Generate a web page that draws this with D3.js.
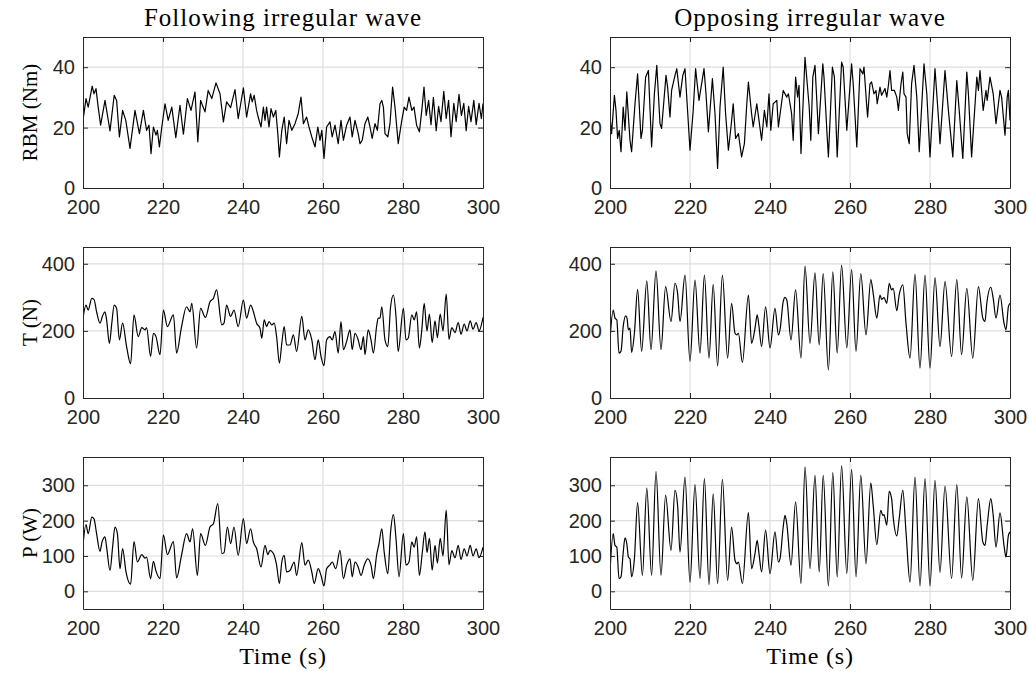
<!DOCTYPE html>
<html>
<head>
<meta charset="utf-8">
<script src="https://cdn.jsdelivr.net/npm/d3@7"></script>
<style>
  body { margin: 0; background: #fff; }
  svg { display: block; }
</style>
</head>
<body>
<svg id="chart" width="1030" height="677"></svg>
<script>
// values, [time (s), value]
const rbmFollowing = [[200.0,22.4],[200.75,29.6],[201.3,26.8],[202.3,33.7],[202.75,31.2],[203.25,32.9],[203.8,26.8],[204.4,20.8],[205.5,29.0],[206.75,18.9],[207.8,30.7],[208.4,29.0],[209.1,16.9],[209.9,25.7],[210.7,22.4],[211.75,13.1],[213.0,25.7],[214.1,18.0],[215.1,25.7],[215.9,19.1],[216.5,20.8],[217.0,11.4],[217.6,20.2],[218.25,17.5],[218.6,19.1],[219.1,13.6],[219.7,20.2],[220.5,27.9],[221.3,22.4],[222.2,26.8],[223.2,16.7],[224.25,27.4],[225.1,17.8],[226.1,29.6],[227.0,25.7],[228.0,31.8],[228.7,15.3],[229.4,29.0],[230.5,25.2],[231.3,32.3],[232.2,29.6],[233.25,34.8],[234.25,31.2],[235.1,21.9],[235.9,28.5],[236.9,26.6],[238.0,32.6],[238.8,23.0],[240.1,33.2],[240.9,23.5],[241.9,31.2],[242.3,28.5],[242.8,30.7],[243.4,25.7],[243.8,23.5],[244.5,20.2],[245.1,26.8],[245.5,22.4],[245.9,26.8],[246.5,20.2],[247.0,26.3],[247.6,23.5],[248.2,25.7],[248.7,18.0],[249.1,10.3],[249.7,19.1],[250.3,23.5],[250.9,14.7],[251.5,22.4],[252.2,19.1],[253.0,21.3],[253.8,24.6],[254.5,30.1],[255.1,21.3],[255.9,23.5],[256.5,20.2],[257.2,16.9],[258.0,13.6],[258.7,20.2],[259.25,15.8],[259.7,19.1],[260.25,9.8],[260.9,20.2],[261.75,21.9],[262.3,16.9],[263.0,20.8],[263.8,14.7],[264.5,22.4],[265.1,15.8],[265.9,20.8],[266.75,23.5],[267.3,16.9],[268.0,22.4],[268.8,18.0],[269.25,14.7],[269.8,15.8],[270.5,21.3],[271.2,23.5],[271.75,20.2],[272.3,16.4],[273.0,21.3],[273.6,19.1],[274.25,27.9],[274.7,29.0],[275.1,26.8],[275.5,18.0],[276.2,16.9],[276.75,21.3],[277.4,33.4],[278.0,26.8],[278.8,14.7],[279.7,22.4],[280.3,26.8],[280.9,25.7],[281.5,30.1],[282.2,25.7],[282.75,26.8],[283.4,20.8],[284.1,18.6],[284.7,25.7],[285.25,33.4],[285.8,24],[286.4,29],[287.0,21],[287.6,30],[288.3,19],[288.9,27],[289.5,22],[290.2,32],[290.8,23],[291.4,29],[292.0,17],[292.7,28],[293.3,22],[294.0,31],[294.6,24],[295.2,28],[295.8,19],[296.4,27],[297.0,22],[297.7,29],[298.3,21],[299.0,28],[299.6,23],[300.0,28]];

const rbmOpposing = [[200.0,23.5],[200.4,18.0],[201.1,30.7],[201.5,25.7],[201.9,16.4],[202.3,19.1],[202.75,12.0],[203.3,26.8],[203.75,19.1],[204.2,31.8],[205.0,15.8],[205.4,12.0],[206.25,27.9],[206.9,37.8],[207.75,16.4],[208.1,19.1],[208.9,36.7],[209.6,38.9],[210.4,13.6],[211.1,31.2],[211.7,40.6],[212.5,21.3],[212.9,19.7],[214.0,37.3],[214.4,33.4],[215.0,23.5],[215.4,32.3],[216.25,37.3],[216.7,39.5],[217.5,30.1],[218.2,37.3],[218.75,39.5],[220.0,12.5],[220.8,25.7],[221.4,39.5],[222.25,29.0],[223.5,39.5],[224.0,31.2],[224.6,18.6],[225.6,36.2],[226.25,24.6],[226.9,6.5],[227.5,26.8],[228.3,40.0],[228.9,24.6],[229.6,12.5],[230.25,20.2],[230.8,27.9],[231.4,16.4],[232.1,18.0],[232.9,10.3],[233.6,14.7],[234.2,27.9],[234.6,35.1],[235.4,24.6],[235.8,20.2],[236.7,27.9],[237.25,22.4],[237.9,15.8],[238.6,25.7],[239.2,20.2],[239.75,31.2],[240.2,19.1],[240.8,27.9],[241.7,29.0],[242.1,20.2],[243.3,32.3],[244.2,30.1],[244.6,31.2],[245.4,24.6],[245.8,15.8],[246.4,36.7],[246.9,30.1],[247.25,34.0],[247.75,11.4],[248.75,43.3],[249.8,26.8],[250.2,15.8],[250.7,36.7],[251.25,40.6],[251.7,29.0],[252.1,18.0],[253.2,41.1],[253.5,36.7],[254.3,16.9],[254.6,10.3],[255.6,40.0],[256.1,36.7],[256.8,10.3],[257.9,41.7],[258.3,40.0],[259.2,19.1],[260.4,41.1],[260.8,34.5],[261.7,13.6],[262.5,39.5],[263.2,37.8],[263.5,40.0],[264.2,26.8],[264.4,23.5],[265.0,34.5],[265.4,35.1],[266.0,31.2],[266.5,32.3],[266.8,27.9],[267.5,33.4],[267.9,30.7],[268.75,32.9],[269.2,30.1],[269.6,34.0],[270.0,38.9],[270.4,32.3],[271.1,32.3],[271.7,30.1],[272.1,25.7],[272.75,34.5],[273.2,38.4],[273.5,31.2],[274.0,30.1],[274.3,18.0],[274.8,14.7],[275.4,34.5],[276.0,40.6],[276.7,30.1],[277.3,12.0],[278.5,41.1],[279.2,31.2],[280.0,10.3],[281.25,39.5],[282.1,23.5],[282.5,14.7],[283.75,38.9],[284.6,25.7],[285.7,10.3],[286.7,35.6],[287.3,25.7],[288.2,9.8],[289.2,38.4],[289.6,31.2],[290.4,10.3],[291.7,36.7],[292.1,32.3],[292.5,38.9],[293.3,25.7],[294.0,32.3],[294.3,29.0],[295.0,36.7],[295.8,31.2],[296.5,21.3],[297.5,32.3],[297.9,30.1],[298.75,17.5],[299.3,30.1],[299.6,32.3],[300.0,22.4]];

const tFollowing = [[200.0,238],[200.75,277],[201.3,262],[202.2,297],[202.75,294],[203.4,257],[204.25,223],[204.9,245],[205.5,257],[205.9,233],[206.6,163],[207.2,223],[207.8,277],[208.4,267],[209.1,173],[209.9,223],[210.9,153],[211.9,102],[212.75,248],[213.8,183],[214.7,210],[215.5,203],[215.9,210],[216.9,124],[217.6,193],[218.25,183],[219.25,129],[220.1,262],[221.1,213],[222.6,248],[223.4,134],[224.6,210],[225.9,272],[226.75,257],[227.2,282],[228.4,149],[229.4,267],[230.6,240],[231.75,287],[232.6,297],[233.4,322],[234.7,218],[235.25,223],[235.9,277],[236.9,243],[237.75,262],[238.8,213],[240.1,292],[240.9,238],[241.9,277],[242.6,257],[243.4,223],[244.25,208],[244.7,178],[245.3,233],[245.9,213],[246.5,228],[247.2,218],[247.8,223],[248.4,183],[249.1,104],[249.7,163],[250.3,213],[250.9,158],[251.75,158],[252.6,188],[253.4,139],[254.7,243],[255.5,173],[256.3,203],[257.2,173],[258.0,114],[258.8,173],[259.5,124],[260.25,96],[260.9,173],[261.75,183],[262.3,173],[263.0,198],[263.8,134],[264.5,228],[265.1,144],[265.9,168],[266.75,203],[267.3,144],[268.0,193],[268.8,173],[269.5,144],[270.1,183],[270.5,129],[271.3,203],[272.0,173],[272.6,134],[273.4,213],[273.8,238],[274.25,238],[274.7,272],[275.5,173],[276.2,153],[276.9,272],[277.6,307],[278.25,243],[278.8,139],[280.1,267],[280.75,173],[281.3,178],[282.2,248],[282.8,233],[283.4,257],[284.1,149],[284.7,203],[285.3,282],[286.0,200],[286.6,250],[287.3,165],[288.0,230],[288.6,180],[289.3,250],[290.0,200],[290.8,310],[291.5,175],[292.2,210],[293.0,195],[293.8,225],[294.5,190],[295.3,220],[296.0,200],[296.8,230],[297.5,205],[298.3,225],[299.0,200],[300.0,240]];

const tOpposing = [[200.0,173],[200.8,262],[201.25,238],[201.7,233],[202.25,134],[202.75,139],[203.3,213],[203.9,245],[204.25,238],[204.6,203],[205.0,208],[205.4,136],[206.1,193],[206.9,324],[207.9,139],[209.2,349],[210.25,144],[211.5,379],[212.75,144],[213.9,332],[215.25,228],[216.25,342],[216.9,312],[217.5,228],[218.75,366],[220.0,109],[221.25,351],[222.5,134],[223.6,366],[224.75,119],[225.8,339],[226.9,96],[228.1,366],[229.4,119],[230.4,282],[231.25,193],[231.75,188],[232.1,193],[233.1,106],[234.6,307],[235.4,163],[236.25,208],[236.8,248],[237.25,213],[237.9,153],[238.9,272],[240.0,149],[241.25,267],[242.1,188],[242.5,203],[243.3,287],[243.75,300],[244.2,292],[245.25,173],[246.4,322],[247.75,119],[248.75,393],[250.0,163],[251.25,373],[252.3,158],[253.3,371],[254.6,84],[255.7,376],[256.8,134],[257.9,396],[259.2,149],[260.4,383],[261.5,139],[262.7,371],[264.0,188],[265.2,353],[265.8,312],[266.7,238],[267.5,307],[267.9,294],[268.5,299],[269.2,282],[269.8,342],[270.4,322],[270.8,327],[271.7,260],[272.3,307],[273.2,337],[274.0,223],[275.0,119],[276.25,369],[277.5,89],[278.75,366],[280.0,89],[281.25,359],[282.5,153],[283.75,347],[285.4,124],[286.7,353],[287.9,129],[289.2,327],[290.7,119],[292.1,332],[293.2,238],[293.75,228],[294.2,282],[295.2,330],[295.8,297],[296.5,238],[297.5,307],[298.5,223],[299.0,203],[299.6,272],[300.0,282]];

const pFollowing = [[200.0,130],[200.75,189],[201.3,163],[202.2,210],[202.75,205],[203.4,163],[204.25,113],[204.75,139],[205.5,154],[205.9,125],[206.75,59],[207.4,125],[208.0,182],[208.6,163],[209.25,64],[209.9,121],[210.75,55],[211.9,20],[212.75,141],[213.6,83],[214.7,104],[215.5,94],[215.9,97],[216.9,36],[217.6,85],[218.25,57],[219.25,36],[220.1,160],[221.1,104],[222.6,141],[223.4,38],[224.6,100],[225.9,163],[226.75,140],[227.4,177],[228.6,45],[229.4,163],[230.6,130],[231.75,182],[232.6,191],[233.7,248],[234.7,107],[235.25,109],[236.1,182],[236.9,135],[237.75,182],[238.8,102],[240.1,206],[240.9,135],[241.9,177],[242.6,139],[243.4,121],[244.5,69],[245.5,130],[246.2,104],[246.75,116],[247.6,107],[248.4,74],[249.1,22],[249.7,83],[250.3,102],[250.9,55],[251.75,59],[252.8,83],[253.4,45],[254.7,138],[255.5,74],[256.3,88],[257.2,55],[257.8,22],[258.8,64],[259.5,45],[260.25,15],[260.9,64],[261.75,75],[262.3,83],[263.2,64],[264.25,116],[265.1,36],[265.9,74],[266.75,92],[267.3,41],[268.0,83],[268.8,69],[269.5,45],[270.3,74],[271.2,92],[272.0,74],[272.6,36],[273.4,102],[274.0,135],[274.7,177],[275.3,111],[276.2,50],[276.9,168],[277.6,217],[278.25,149],[279.0,41],[280.1,163],[280.75,74],[281.5,83],[282.2,140],[282.8,125],[283.4,154],[284.1,45],[284.8,107],[285.5,168],[286.0,110],[286.6,150],[287.3,60],[288.0,130],[288.6,80],[289.3,150],[290.0,100],[290.8,230],[291.5,75],[292.2,115],[293.0,95],[293.8,130],[294.5,90],[295.3,120],[296.0,100],[296.8,130],[297.5,100],[298.3,120],[299.0,95],[300.0,125]];

const pOpposing = [[200.0,55],[200.8,163],[201.25,130],[201.7,125],[202.25,36],[202.75,41],[203.3,109],[203.75,151],[204.2,135],[204.6,97],[205.0,92],[205.4,41],[206.1,92],[206.9,251],[208.1,45],[209.2,292],[210.4,45],[211.5,339],[212.75,45],[213.9,272],[215.25,116],[216.25,286],[216.9,243],[217.5,111],[218.75,323],[220.0,25],[221.25,302],[222.5,36],[223.6,319],[224.75,19],[225.8,276],[226.9,22],[228.1,317],[229.4,31],[230.4,182],[231.25,88],[231.75,78],[232.1,83],[233.1,22],[234.6,223],[235.4,64],[236.25,107],[236.8,144],[237.25,107],[237.9,55],[238.9,173],[240.0,50],[241.25,168],[242.1,83],[242.5,92],[243.3,182],[243.75,215],[244.2,191],[245.25,74],[246.4,253],[247.75,22],[248.75,352],[250.0,64],[251.25,328],[252.3,55],[253.3,328],[254.6,15],[255.7,336],[256.8,41],[257.9,356],[259.2,50],[260.4,345],[261.5,41],[262.7,328],[264.0,78],[265.2,307],[265.8,243],[266.7,132],[267.7,229],[268.2,215],[268.5,217],[269.2,187],[269.8,283],[270.4,262],[270.8,210],[271.7,157],[272.3,206],[273.2,286],[274.0,168],[275.0,26],[276.25,323],[277.5,15],[278.75,319],[280.0,15],[281.25,314],[282.5,53],[283.75,298],[285.4,36],[286.7,302],[287.9,38],[289.2,267],[290.7,31],[292.1,262],[293.2,140],[293.75,130],[294.3,187],[295.2,262],[295.8,215],[296.5,125],[297.5,222],[298.5,130],[299.0,97],[299.6,158],[300.0,168]];

const timeTicks = [200, 220, 240, 260, 280, 300];
const rbmTicks = [0, 20, 40];
const tensionTicks = [0, 200, 400];
const powerTicks = [0, 100, 200, 300];
const columnTitles = ["Following irregular wave", "Opposing irregular wave"];
const rowLabels = ["RBM (Nm)", "T (N)", "P (W)"];
const timeLabel = "Time (s)";

const svg = d3.select("#chart");
const serif = "'Liberation Serif', 'DejaVu Serif', serif";
const sans = "'Liberation Sans', Arial, sans-serif";
const axisColor = "#262626";

const cols = [{ left: 83, right: 483 }, { left: 610, right: 1010 }];
const rows = [
  { top: 37, bottom: 188, domain: [0, 50], ticks: rbmTicks, series: [rbmFollowing, rbmOpposing], curve: d3.curveLinear },
  { top: 247, bottom: 398, domain: [0, 450], ticks: tensionTicks, series: [tFollowing, tOpposing], curve: d3.curveMonotoneX },
  { top: 457, bottom: 609, domain: [-50, 380], ticks: powerTicks, series: [pFollowing, pOpposing], curve: d3.curveMonotoneX }
];

rows.forEach((row, r) => {
  cols.forEach((col, c) => {
    const x = d3.scaleLinear().domain([200, 300]).range([col.left, col.right]);
    const y = d3.scaleLinear().domain(row.domain).range([row.bottom, row.top]);
    const g = svg.append("g");
    const clipId = `clip-${r}-${c}`;

    svg.append("clipPath").attr("id", clipId)
      .append("rect")
      .attr("x", col.left).attr("y", row.top)
      .attr("width", col.right - col.left).attr("height", row.bottom - row.top);

    // grid
    g.selectAll(".vgrid").data(timeTicks.slice(1, -1)).enter().append("line")
      .attr("x1", d => x(d)).attr("x2", d => x(d))
      .attr("y1", row.top).attr("y2", row.bottom)
      .attr("stroke", "#dedede").attr("stroke-width", 1.2);
    g.selectAll(".hgrid").data(row.ticks.filter(d => y(d) < row.bottom - 1)).enter().append("line")
      .attr("x1", col.left).attr("x2", col.right)
      .attr("y1", d => y(d)).attr("y2", d => y(d))
      .attr("stroke", "#dedede").attr("stroke-width", 1.2);

    // the signal
    const line = d3.line().x(d => x(d[0])).y(d => y(d[1])).curve(row.curve);
    g.append("path")
      .datum(row.series[c])
      .attr("clip-path", `url(#${clipId})`)
      .attr("fill", "none")
      .attr("stroke", "#000")
      .attr("stroke-width", 1.2)
      .attr("stroke-linejoin", "round")
      .attr("d", line);

    // axes, ticks pointing inward like matlab's box
    const bottomAxis = d3.axisBottom(x).tickValues(timeTicks).tickSize(-5).tickSizeOuter(0).tickPadding(12);
    const leftAxis = d3.axisLeft(y).tickValues(row.ticks).tickSize(-5).tickSizeOuter(0).tickPadding(8);
    const topAxis = d3.axisTop(x).tickValues(timeTicks).tickSize(-5).tickSizeOuter(0).tickFormat("");
    const rightAxis = d3.axisRight(y).tickValues(row.ticks).tickSize(-5).tickSizeOuter(0).tickFormat("");

    const axes = [
      g.append("g").attr("transform", `translate(0,${row.bottom})`).call(bottomAxis),
      g.append("g").attr("transform", `translate(${col.left},0)`).call(leftAxis),
      g.append("g").attr("transform", `translate(0,${row.top})`).call(topAxis),
      g.append("g").attr("transform", `translate(${col.right},0)`).call(rightAxis)
    ];
    axes.forEach(a => {
      a.select(".domain").attr("stroke", axisColor).attr("stroke-width", 1);
      a.selectAll(".tick line").attr("stroke", axisColor).attr("stroke-width", 1);
      a.selectAll(".tick text").attr("fill", axisColor).style("font-family", sans).style("font-size", "20px");
    });

    if (c === 0) {
      svg.append("text")
        .attr("transform", `translate(37,${(row.top + row.bottom) / 2}) rotate(-90)`)
        .attr("text-anchor", "middle")
        .style("font-family", serif).style("font-size", "21px")
        .text(rowLabels[r]);
    }
    if (r === 0) {
      svg.append("text")
        .attr("x", (col.left + col.right) / 2).attr("y", 26)
        .attr("text-anchor", "middle")
        .style("font-family", serif).style("font-size", "25px").style("letter-spacing", "1px")
        .text(columnTitles[c]);
    }
    if (r === rows.length - 1) {
      svg.append("text")
        .attr("x", (col.left + col.right) / 2).attr("y", 664)
        .attr("text-anchor", "middle")
        .style("font-family", serif).style("font-size", "24px").style("letter-spacing", "0.8px")
        .text(timeLabel);
    }
  });
});
</script>
</body>
</html>
